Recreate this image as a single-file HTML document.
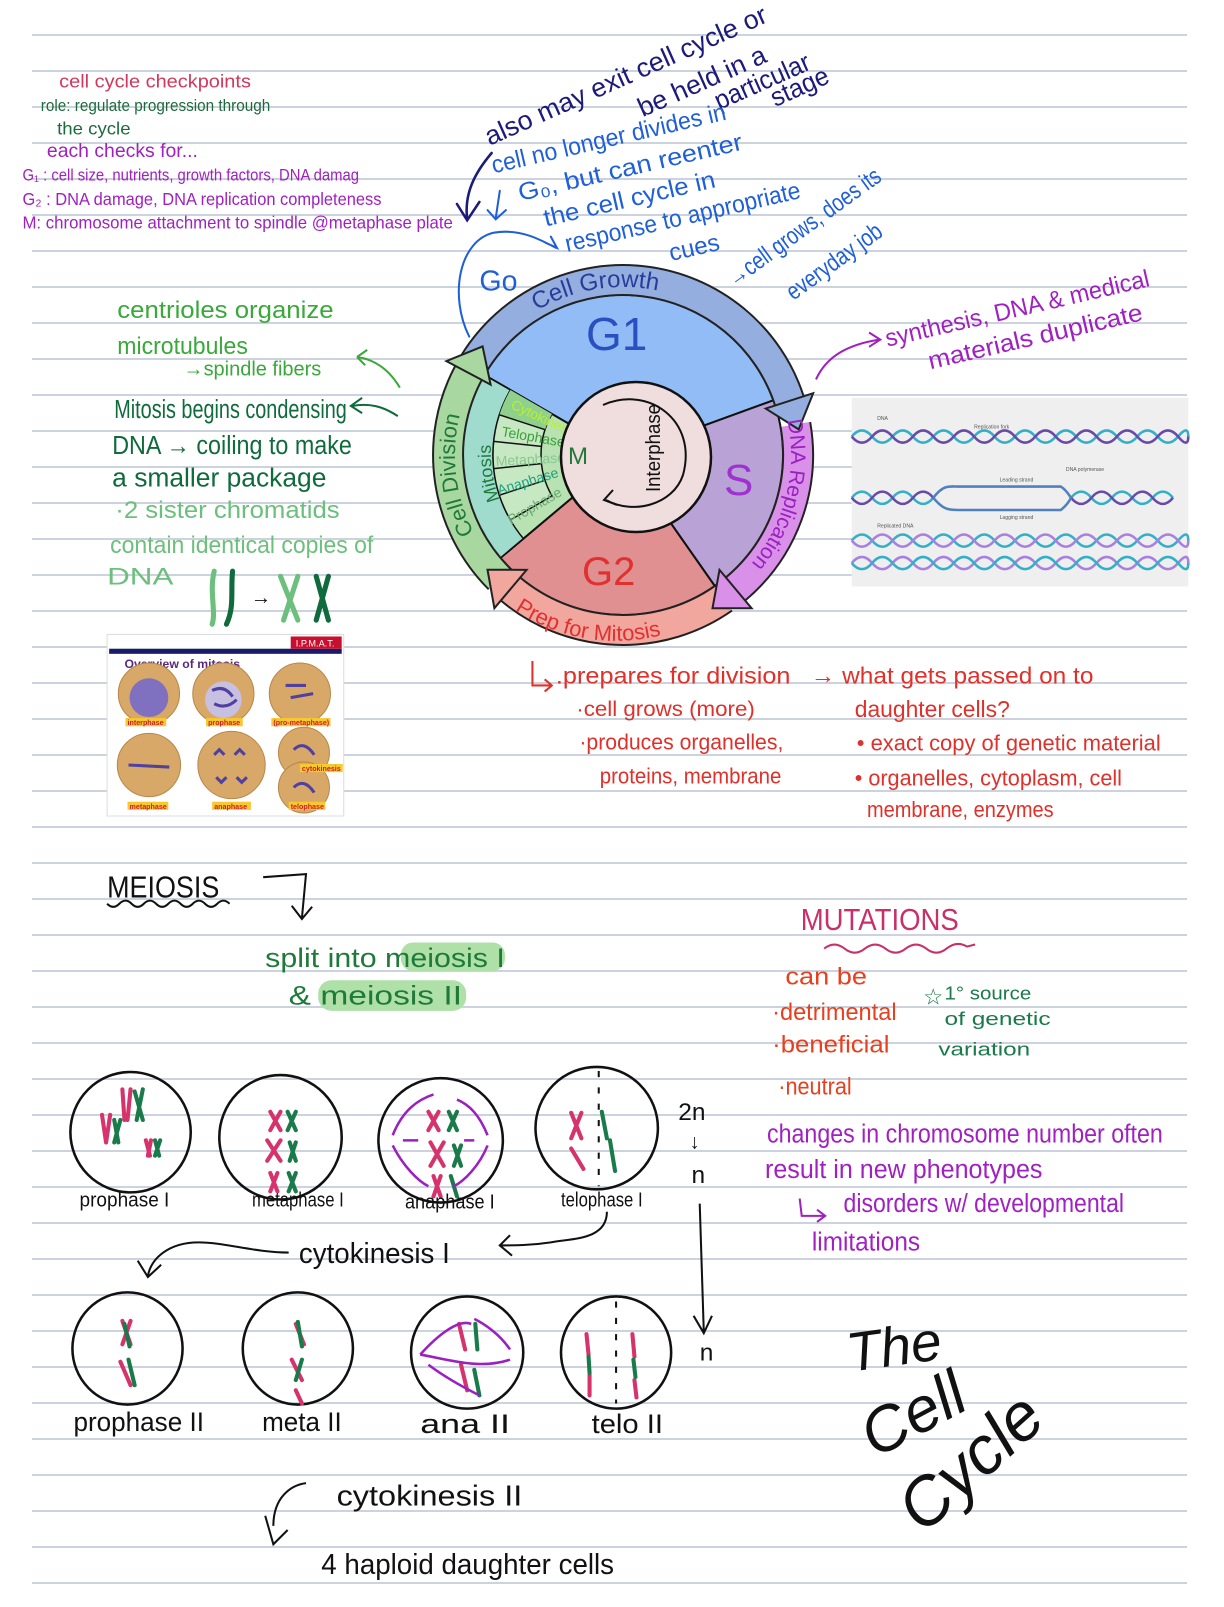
<!DOCTYPE html>
<html><head><meta charset="utf-8"><style>
html,body{margin:0;padding:0;background:#fff}
svg{display:block}
text{font-family:"Liberation Sans Narrow","Liberation Sans",sans-serif}
</style></head><body>
<svg width="1224" height="1607" viewBox="0 0 1224 1607" xmlns="http://www.w3.org/2000/svg">
<defs>
<path id="pGrowth" d="M518.6,317.4 A168 168 0 0 1 711.4,317.4"/>
<path id="pDNA" d="M777.3,411.5 A168 168 0 0 1 693.9,603.3"/>
<path id="pPrep" d="M498,604 A183 183 0 0 0 700,616"/>
<path id="pDiv" d="M469.5,539 A168 168 0 0 1 472.5,366"/>
<path id="pMit" d="M493,503 A130 130 0 0 1 487,420"/>
</defs>
<rect width="1224" height="1607" fill="#fff"/>
<g stroke="#ccd3df" stroke-width="2">
<line x1="32" y1="35" x2="1187" y2="35"/><line x1="32" y1="71" x2="1187" y2="71"/><line x1="32" y1="107" x2="1187" y2="107"/><line x1="32" y1="143" x2="1187" y2="143"/><line x1="32" y1="179" x2="1187" y2="179"/><line x1="32" y1="215" x2="1187" y2="215"/><line x1="32" y1="251" x2="1187" y2="251"/><line x1="32" y1="287" x2="1187" y2="287"/><line x1="32" y1="323" x2="1187" y2="323"/><line x1="32" y1="359" x2="1187" y2="359"/><line x1="32" y1="395" x2="1187" y2="395"/><line x1="32" y1="431" x2="1187" y2="431"/><line x1="32" y1="467" x2="1187" y2="467"/><line x1="32" y1="503" x2="1187" y2="503"/><line x1="32" y1="539" x2="1187" y2="539"/><line x1="32" y1="575" x2="1187" y2="575"/><line x1="32" y1="611" x2="1187" y2="611"/><line x1="32" y1="647" x2="1187" y2="647"/><line x1="32" y1="683" x2="1187" y2="683"/><line x1="32" y1="719" x2="1187" y2="719"/><line x1="32" y1="755" x2="1187" y2="755"/><line x1="32" y1="791" x2="1187" y2="791"/><line x1="32" y1="827" x2="1187" y2="827"/><line x1="32" y1="863" x2="1187" y2="863"/><line x1="32" y1="899" x2="1187" y2="899"/><line x1="32" y1="935" x2="1187" y2="935"/><line x1="32" y1="971" x2="1187" y2="971"/><line x1="32" y1="1007" x2="1187" y2="1007"/><line x1="32" y1="1043" x2="1187" y2="1043"/><line x1="32" y1="1079" x2="1187" y2="1079"/><line x1="32" y1="1115" x2="1187" y2="1115"/><line x1="32" y1="1151" x2="1187" y2="1151"/><line x1="32" y1="1187" x2="1187" y2="1187"/><line x1="32" y1="1223" x2="1187" y2="1223"/><line x1="32" y1="1259" x2="1187" y2="1259"/><line x1="32" y1="1295" x2="1187" y2="1295"/><line x1="32" y1="1331" x2="1187" y2="1331"/><line x1="32" y1="1367" x2="1187" y2="1367"/><line x1="32" y1="1403" x2="1187" y2="1403"/><line x1="32" y1="1439" x2="1187" y2="1439"/><line x1="32" y1="1475" x2="1187" y2="1475"/><line x1="32" y1="1511" x2="1187" y2="1511"/><line x1="32" y1="1547" x2="1187" y2="1547"/><line x1="32" y1="1583" x2="1187" y2="1583"/>
</g>

<!-- cell cycle circle (true coords) -->
<g transform="translate(8,0)">
<path d="M615,455 L476.4,375 A160 160 0 0 1 765.4,400.3 Z" fill="#92bcf5" stroke="#111" stroke-width="2"/>
<path d="M615,455 L765.4,400.3 A160 160 0 0 1 706.8,586 Z" fill="#b9a3d6" stroke="#111" stroke-width="2"/>
<path d="M615,455 L706.8,586 A160 160 0 0 1 492.4,557.9 Z" fill="#e09090" stroke="#111" stroke-width="2"/>
<path d="M615,455 L492.4,557.9 A160 160 0 0 1 476.4,375 Z" fill="#b8e2b2" stroke="#111" stroke-width="2"/>
<path d="M492.4,557.9 A160 160 0 0 1 476.4,375 L502.4,390 A130 130 0 0 0 515.4,538.6 Z" fill="#9fdccd" stroke="#111" stroke-width="1.5"/>
<path d="M502.4,520 A130 130 0 0 1 502.4,390 L544,414 A82 82 0 0 0 544,496 Z" fill="#c6e8c2" stroke="#111" stroke-width="1.5"/>
<path d="M491.4,414.8 A130 130 0 0 1 502.4,390 L544,414 A82 82 0 0 0 537,429.7 Z" fill="#8fd08c"/>
<g stroke="#111" stroke-width="1.5">
<line x1="491.4" y1="495.2" x2="537" y2="480.3"/><line x1="485.7" y1="468.6" x2="533.4" y2="463.6"/><line x1="485.7" y1="441.4" x2="533.4" y2="446.4"/><line x1="491.4" y1="414.8" x2="537" y2="429.7"/>
</g>
<g fill="none" stroke-linecap="butt">
<path d="M502.5,589 A175 175 0 0 0 715.4,598.3" stroke="#222" stroke-width="32"/>
<path d="M502.5,589 A175 175 0 0 0 715.4,598.3" stroke="#f2a79e" stroke-width="28"/>
<path d="M787.4,424.6 A175 175 0 0 1 727.5,589" stroke="#222" stroke-width="32"/>
<path d="M787.4,424.6 A175 175 0 0 1 727.5,589" stroke="#d890e8" stroke-width="28"/>
<path d="M491.3,578.7 A175 175 0 0 1 460.5,372.9" stroke="#222" stroke-width="32"/>
<path d="M491.3,578.7 A175 175 0 0 1 460.5,372.9" stroke="#a8d8a0" stroke-width="28"/>
<path d="M466.6,362.3 A175 175 0 0 1 781.4,400.9" stroke="#222" stroke-width="32"/>
<path d="M466.6,362.3 A175 175 0 0 1 781.4,400.9" stroke="#94aee0" stroke-width="28"/>
</g>
<polygon points="757.7,408.6 805.2,393.2 790.7,429.4" fill="#94aee0" stroke="#222" stroke-width="2"/>
<polygon points="711.5,569.9 743.6,608.2 704.5,608.3" fill="#d890e8" stroke="#222" stroke-width="2"/>
<polygon points="518.6,569.9 486.4,608.2 479.5,569.7" fill="#f2a79e" stroke="#222" stroke-width="2"/>
<polygon points="482.6,384.6 438.4,361.1 474.6,346.4" fill="#a8d8a0" stroke="#222" stroke-width="2"/>
<text font-size="24" fill="#2a3c9a"><textPath href="#pGrowth" startOffset="6%">Cell  Growth</textPath></text>
<text font-size="21" fill="#9a20c0"><textPath href="#pDNA" startOffset="4%">DNA  Replication</textPath></text>
<text font-size="22" fill="#e03030"><textPath href="#pPrep" startOffset="5%">Prep  for  Mitosis</textPath></text>
<text font-size="22" fill="#1f7a3a"><textPath href="#pDiv" startOffset="4%">Cell   Division</textPath></text>
<text font-size="18" fill="#1f7a3a"><textPath href="#pMit" startOffset="4%">Mitosis</textPath></text>
<g font-size="14">
<text transform="translate(502,408) rotate(25)" fill="#b8f030">Cytokinesis</text>
<text transform="translate(493,436) rotate(10)" fill="#3da03a">Telophase</text>
<text transform="translate(488,466) rotate(-3)" fill="#8ac890">Metaphase</text>
<text transform="translate(491,495) rotate(-17)" fill="#1fa080">Anaphase</text>
<text transform="translate(503,525) rotate(-30)" fill="#6aaa70">Prophase</text>
</g>
<circle cx="628" cy="457" r="75" fill="#f0dede" stroke="#111" stroke-width="2.5"/>
<path d="M595,405 C640,385 690,420 675,475 C665,505 625,515 598,500 M605,490 L596,500 L609,505" fill="none" stroke="#111" stroke-width="2"/>
<text transform="translate(652,492) rotate(-90)" font-size="20" fill="#111" textLength="88" lengthAdjust="spacingAndGlyphs">Interphase</text>
<text x="560" y="464" font-size="24" fill="#1f7a3a">M</text>
<text x="578" y="350" font-size="46" fill="#2a4fc0">G1</text>
<text x="716" y="495" font-size="44" fill="#a030d0">S</text>
<text x="574" y="585" font-size="40" fill="#e03030">G2</text>
</g>

<g transform="scale(1.02)">
<!-- top-left checkpoints -->
<text x="58" y="86" fill="#d0385c" font-size="18" textLength="188" lengthAdjust="spacingAndGlyphs">cell cycle   checkpoints</text>
<text x="40" y="109" fill="#1d6b3c" font-size="16" textLength="225" lengthAdjust="spacingAndGlyphs">role: regulate  progression  through</text>
<text x="56" y="132" fill="#1d6b3c" font-size="17" textLength="72" lengthAdjust="spacingAndGlyphs">the cycle</text>
<text x="46" y="154" fill="#a020c0" font-size="19" textLength="148" lengthAdjust="spacingAndGlyphs">each checks for...</text>
<text x="22" y="177" fill="#a020c0" font-size="16" textLength="330" lengthAdjust="spacingAndGlyphs">G₁ : cell size, nutrients, growth factors, DNA damag</text>
<text x="22" y="201" fill="#a020c0" font-size="17" textLength="352" lengthAdjust="spacingAndGlyphs">G₂ : DNA damage, DNA replication completeness</text>
<text x="22" y="224" fill="#a020c0" font-size="17" textLength="422" lengthAdjust="spacingAndGlyphs">M: chromosome attachment to spindle @metaphase plate</text>

<!-- blue notes top -->
<g fill="#1c1a7a" font-size="26">
<text transform="translate(480,143) rotate(-24)" textLength="300" lengthAdjust="spacingAndGlyphs">also may  exit cell cycle or</text>
<text transform="translate(630,115) rotate(-24)" textLength="135" lengthAdjust="spacingAndGlyphs">be held in a</text>
<text transform="translate(705,108) rotate(-24)" textLength="100" lengthAdjust="spacingAndGlyphs">particular</text>
<text transform="translate(760,105) rotate(-24)" textLength="60" lengthAdjust="spacingAndGlyphs">stage</text>
</g>
<g fill="#1f5fd8" font-size="24">
<text transform="translate(484,170) rotate(-13)" textLength="235" lengthAdjust="spacingAndGlyphs">cell no longer divides in</text>
<text transform="translate(510,197) rotate(-13)" textLength="225" lengthAdjust="spacingAndGlyphs">G₀, but can reenter</text>
<text transform="translate(535,222) rotate(-13)" textLength="172" lengthAdjust="spacingAndGlyphs">the cell cycle in</text>
<text transform="translate(556,247) rotate(-13)" textLength="236" lengthAdjust="spacingAndGlyphs">response to appropriate</text>
<text transform="translate(658,256) rotate(-13)" textLength="50" lengthAdjust="spacingAndGlyphs">cues</text>
<text transform="translate(720,282) rotate(-36)" textLength="180" lengthAdjust="spacingAndGlyphs">→cell grows, does its</text>
<text transform="translate(778,295) rotate(-36)" textLength="110" lengthAdjust="spacingAndGlyphs">everyday job</text>
<text x="470" y="285" font-size="28">Go</text>
</g>
<g fill="none" stroke-linecap="round">
<path d="M482,150 C465,170 455,190 458,215" stroke="#1c1a7a" stroke-width="2.5"/>
<path d="M448,200 L458,216 L470,198" stroke="#1c1a7a" stroke-width="2.5"/>
<path d="M490,187 L486,214 M478,206 L486,215 L496,206" stroke="#1f5fd8" stroke-width="2"/>
<path d="M460,330 C440,290 450,235 485,228 C510,224 530,235 545,243 M535,238 L546,243 L540,232" stroke="#1f5fd8" stroke-width="2"/>
</g>

<!-- purple synthesis -->
<path d="M800,372 C810,350 830,338 862,333 M852,326 L863,333 L852,340" fill="none" stroke="#a020c0" stroke-width="2"/>
<text transform="translate(870,340) rotate(-13)" font-size="24" fill="#a020c0" textLength="265" lengthAdjust="spacingAndGlyphs">synthesis, DNA &amp; medical</text>
<text transform="translate(912,362) rotate(-13)" font-size="24" fill="#a020c0" textLength="215" lengthAdjust="spacingAndGlyphs">materials  duplicate</text>

<!-- DNA replication image -->
<rect x="835" y="390" width="330" height="185" fill="#efefef"/>
<g fill="none" stroke-width="2.5">
<path d="M835,428 q10,-12 20,0 t20,0 t20,0 t20,0 t20,0 t20,0 t20,0 t20,0 t20,0 t20,0 t20,0 t20,0 t20,0 t20,0 t20,0 t20,0 t10,0" stroke="#33b0c8"/>
<path d="M835,428 q10,12 20,0 t20,0 t20,0 t20,0 t20,0 t20,0 t20,0 t20,0 t20,0 t20,0 t20,0 t20,0 t20,0 t20,0 t20,0 t20,0 t10,0" stroke="#6a4aa8"/>
<path d="M835,488 q10,-12 20,0 t20,0 t20,0 t20,0 M1050,488 q10,-12 20,0 t20,0 t20,0 t20,0 t20,0" stroke="#33b0c8"/>
<path d="M835,488 q10,12 20,0 t20,0 t20,0 t20,0 M1050,488 q10,12 20,0 t20,0 t20,0 t20,0 t20,0" stroke="#6a4aa8"/>
<path d="M915,488 C925,475 930,477 940,477 L1040,477 C1045,480 1048,485 1050,488 M915,488 C925,500 930,500 940,500 L1040,500 C1045,496 1048,492 1050,488" stroke="#5080c0"/>
<path d="M835,530 q10,-12 20,0 t20,0 t20,0 t20,0 t20,0 t20,0 t20,0 t20,0 t20,0 t20,0 t20,0 t20,0 t20,0 t20,0 t20,0 t20,0 t10,0" stroke="#33b0c8"/>
<path d="M835,530 q10,12 20,0 t20,0 t20,0 t20,0 t20,0 t20,0 t20,0 t20,0 t20,0 t20,0 t20,0 t20,0 t20,0 t20,0 t20,0 t20,0 t10,0" stroke="#a880e0"/>
<path d="M835,552 q10,-12 20,0 t20,0 t20,0 t20,0 t20,0 t20,0 t20,0 t20,0 t20,0 t20,0 t20,0 t20,0 t20,0 t20,0 t20,0 t20,0 t10,0" stroke="#a880e0"/>
<path d="M835,552 q10,12 20,0 t20,0 t20,0 t20,0 t20,0 t20,0 t20,0 t20,0 t20,0 t20,0 t20,0 t20,0 t20,0 t20,0 t20,0 t20,0 t10,0" stroke="#33b0c8"/>
</g>
<g font-size="5" fill="#555"><text x="860" y="412">DNA</text><text x="955" y="420">Replication fork</text><text x="980" y="472">Leading strand</text><text x="1045" y="462">DNA polymerase</text><text x="980" y="509">Lagging strand</text><text x="860" y="517">Replicated DNA</text></g>

<!-- green left notes -->
<g fill="#3aa83a" font-size="24">
<text x="115" y="312" textLength="212" lengthAdjust="spacingAndGlyphs">centrioles  organize</text>
<text x="115" y="347" textLength="128" lengthAdjust="spacingAndGlyphs">microtubules</text>
<text x="180" y="368" font-size="20" textLength="135" lengthAdjust="spacingAndGlyphs">→spindle fibers</text>
</g>
<path d="M392,380 C380,360 365,352 350,350 M350,350 L360,343 M350,350 L358,358" fill="none" stroke="#3aa83a" stroke-width="2"/>
<g fill="#0f6b3c" font-size="25">
<text x="112" y="410" textLength="228" lengthAdjust="spacingAndGlyphs">Mitosis begins condensing</text>
<text x="110" y="445" textLength="235" lengthAdjust="spacingAndGlyphs">DNA → coiling to make</text>
<text x="110" y="477" textLength="210" lengthAdjust="spacingAndGlyphs">a smaller package</text>
</g>
<path d="M390,408 C375,398 362,395 345,398 M355,390 L344,398 L355,405" fill="none" stroke="#0f6b3c" stroke-width="2"/>
<g fill="#6cbf7c" font-size="24">
<text x="113" y="508" textLength="220" lengthAdjust="spacingAndGlyphs">·2 sister chromatids</text>
<text x="108" y="542" textLength="258" lengthAdjust="spacingAndGlyphs">contain identical copies of</text>
<text x="105" y="573" textLength="65" lengthAdjust="spacingAndGlyphs">DNA</text>
</g>
<g fill="none" stroke-width="5" stroke-linecap="round">
<path d="M210,560 C205,580 212,600 208,612" stroke="#6cbf7c"/><path d="M228,560 C226,580 230,595 222,612" stroke="#0f6b3c"/>
<path d="M275,565 L292,608 M292,565 L278,608" stroke="#6cbf7c"/><path d="M310,565 L322,608 M322,565 L310,608" stroke="#0f6b3c"/>
</g>
<text x="246" y="592" font-size="20" fill="#111">→</text>

<!-- mitosis overview image -->
<rect x="105" y="622" width="232" height="178" fill="#fff" stroke="#ddd"/>
<rect x="107" y="636" width="228" height="5" fill="#1a1a6a"/>
<rect x="285" y="624" width="50" height="12" fill="#c8102e"/>
<text x="290" y="634" font-size="9" fill="#fff" font-family="Liberation Serif">I.P.M.A.T.</text>
<text x="122" y="655" font-size="12" font-weight="bold" fill="#5a2a7a">Overview of mitosis</text>
<g fill="#d8a868" stroke="#b88848">
<circle cx="146" cy="680" r="30"/><circle cx="219" cy="680" r="30"/><circle cx="294" cy="680" r="30"/>
<circle cx="146" cy="750" r="31"/><circle cx="227" cy="750" r="33"/><circle cx="298" cy="738" r="25"/><circle cx="298" cy="772" r="25"/>
</g>
<circle cx="146" cy="684" r="19" fill="#8070c0"/>
<circle cx="219" cy="686" r="18" fill="#c8c0e0"/>
<g stroke="#5040a0" stroke-width="3" fill="none"><path d="M208,677 q12,-6 20,6 M210,690 q12,6 22,-4 M280,672 l20,0 M285,684 l22,-4 M126,750 l40,2 M210,740 l5,-5 l5,5 M230,740 l5,-5 l5,5 M212,762 l5,5 l5,-5 M232,762 l5,5 l5,-5 M288,735 q10,-10 20,5 M288,772 q10,-10 20,5"/></g>
<g font-size="7" font-weight="bold"><rect x="123" y="704" width="40" height="8" fill="#f8c830"/><text x="125" y="711" fill="#d02020">interphase</text>
<rect x="202" y="704" width="36" height="8" fill="#f8c830"/><text x="204" y="711" fill="#d02020">prophase</text>
<rect x="266" y="704" width="58" height="8" fill="#f8c830"/><text x="268" y="711" fill="#d02020">(pro-metaphase)</text>
<rect x="125" y="786" width="40" height="8" fill="#f8c830"/><text x="127" y="793" fill="#d02020">metaphase</text>
<rect x="208" y="786" width="38" height="8" fill="#f8c830"/><text x="210" y="793" fill="#d02020">anaphase</text>
<rect x="294" y="749" width="42" height="8" fill="#f8c830"/><text x="296" y="756" fill="#d02020">cytokinesis</text>
<rect x="283" y="786" width="36" height="8" fill="#f8c830"/><text x="285" y="793" fill="#d02020">telophase</text></g>

<!-- red notes under circle -->
<g fill="#e0302a" font-size="23">
<path d="M522,648 L522,672 L540,672 M534,666 L541,672 L534,678" fill="none" stroke="#e0302a" stroke-width="2"/>
<text x="545" y="670" textLength="230" lengthAdjust="spacingAndGlyphs">.prepares for division</text>
<text x="795" y="670" textLength="277" lengthAdjust="spacingAndGlyphs">→ what gets  passed on to</text>
<text x="565" y="702" font-size="21" textLength="175" lengthAdjust="spacingAndGlyphs">·cell grows (more)</text>
<text x="838" y="703" textLength="152" lengthAdjust="spacingAndGlyphs">daughter cells?</text>
<text x="568" y="735" font-size="22" textLength="200" lengthAdjust="spacingAndGlyphs">·produces organelles,</text>
<text x="840" y="736" font-size="22" textLength="298" lengthAdjust="spacingAndGlyphs">• exact copy of genetic material</text>
<text x="588" y="768" font-size="22" textLength="178" lengthAdjust="spacingAndGlyphs">proteins, membrane</text>
<text x="838" y="770" font-size="22" textLength="262" lengthAdjust="spacingAndGlyphs">• organelles, cytoplasm, cell</text>
<text x="850" y="801" font-size="22" textLength="183" lengthAdjust="spacingAndGlyphs">membrane, enzymes</text>
</g>

<!-- MEIOSIS -->
<text x="105" y="880" font-size="30" fill="#111" textLength="110" lengthAdjust="spacingAndGlyphs">MEIOSIS</text>
<path d="M105,886 q6,6 12,0 t12,0 t12,0 t12,0 t12,0 t12,0 t12,0 t12,0 t12,0 t12,0" fill="none" stroke="#111" stroke-width="2"/>
<path d="M258,860 L300,857 L296,900 M286,888 L296,901 L306,889" fill="none" stroke="#111" stroke-width="2"/>
<rect x="393" y="924" width="102" height="28" rx="12" fill="#aee0a8"/>
<rect x="312" y="961" width="145" height="30" rx="13" fill="#aee0a8"/>
<text x="260" y="948" font-size="26" fill="#1f7a3a" textLength="235" lengthAdjust="spacingAndGlyphs">split into  meiosis I</text>
<text x="283" y="985" font-size="26" fill="#1f7a3a" textLength="170" lengthAdjust="spacingAndGlyphs">&amp;  meiosis II</text>

<g transform="translate(0,8)">
<!-- meiosis circles -->
<g fill="none" stroke="#111" stroke-width="2.5">
<ellipse cx="128" cy="1102" rx="59" ry="59"/><ellipse cx="275" cy="1107" rx="60" ry="61"/><ellipse cx="432" cy="1110" rx="61" ry="61"/><ellipse cx="585" cy="1098" rx="60" ry="60"/>
<ellipse cx="125" cy="1314" rx="54" ry="55"/><ellipse cx="292" cy="1314" rx="54" ry="55"/><ellipse cx="458" cy="1318" rx="55" ry="55"/><ellipse cx="604" cy="1318" rx="54" ry="55"/>
</g>
<g fill="none" stroke-width="4" stroke-linecap="round">
<g stroke="#d6336c"><path d="M120,1060 L122,1090 M128,1060 L125,1090 M100,1085 L104,1112 M108,1085 L104,1112 M143,1110 L147,1125 M148,1110 L145,1125 M265,1082 L275,1100 M275,1082 L265,1100 M262,1110 L275,1130 M275,1110 L262,1130 M265,1142 L272,1160 M272,1142 L265,1160 M420,1082 L430,1100 M430,1082 L420,1100 M422,1112 L435,1135 M435,1112 L422,1135 M425,1145 L432,1165 M432,1145 L425,1165 M560,1083 L570,1108 M570,1083 L560,1108 M560,1118 L572,1138 M120,1287 L128,1310 M128,1287 L120,1310 M118,1327 L128,1350 M290,1290 L298,1310 M286,1325 L296,1345 M290,1355 L296,1368 M450,1290 L456,1315 M452,1330 L458,1355 M575,1300 L577,1320 M620,1300 L622,1322 M578,1340 L578,1360 M622,1345 L624,1362"/></g>
<g stroke="#1a7a4a"><path d="M140,1060 L134,1090 M132,1062 L140,1090 M112,1090 L116,1112 M118,1090 L112,1112 M152,1110 L156,1125 M157,1110 L152,1125 M282,1082 L290,1100 M290,1082 L282,1100 M284,1112 L290,1130 M290,1112 L284,1130 M283,1142 L290,1160 M290,1142 L283,1160 M440,1082 L448,1100 M448,1082 L440,1100 M445,1115 L452,1135 M452,1115 L445,1135 M442,1145 L448,1165 M590,1082 L595,1108 M598,1110 L603,1140 M122,1290 L127,1312 M126,1325 L132,1350 M292,1288 L296,1312 M296,1325 L290,1345 M466,1290 L468,1315 M465,1335 L470,1360 M577,1322 L578,1338 M621,1325 L623,1342"/></g>
</g>
<g fill="none" stroke="#9a20c0" stroke-width="2.5">
<path d="M385,1105 C395,1080 410,1070 425,1065 M478,1105 C470,1085 460,1075 448,1070 M385,1115 C395,1135 410,1150 420,1155 M478,1115 C470,1135 455,1150 445,1155 M395,1110 L410,1110 M455,1110 L465,1110"/>
<path d="M412,1320 C430,1300 450,1285 462,1290 M412,1320 C440,1325 470,1335 500,1325 M420,1330 C440,1345 460,1355 470,1360 M500,1315 C490,1300 475,1290 465,1285"/>
</g>
<g stroke="#111" stroke-width="2" stroke-dasharray="6,10"><line x1="587" y1="1042" x2="587" y2="1155"/><line x1="604" y1="1268" x2="604" y2="1368"/></g>
<g font-size="20" fill="#111">
<text x="78" y="1175" textLength="88" lengthAdjust="spacingAndGlyphs">prophase I</text>
<text x="247" y="1175" textLength="90" lengthAdjust="spacingAndGlyphs">metaphase I</text>
<text x="397" y="1177" textLength="88" lengthAdjust="spacingAndGlyphs">anaphase I</text>
<text x="550" y="1175" textLength="80" lengthAdjust="spacingAndGlyphs">telophase I</text>
<text x="665" y="1090" font-size="24">2n</text><text x="676" y="1118">↓</text><text x="678" y="1152" font-size="24">n</text>
<text x="686" y="1326" font-size="24">n</text>
<text x="293" y="1230" font-size="28" textLength="148" lengthAdjust="spacingAndGlyphs">cytokinesis I</text>
<text x="72" y="1395" font-size="26" textLength="128" lengthAdjust="spacingAndGlyphs">prophase II</text>
<text x="257" y="1395" font-size="26" textLength="78" lengthAdjust="spacingAndGlyphs">meta II</text>
<text x="412" y="1397" font-size="26" textLength="88" lengthAdjust="spacingAndGlyphs">ana II</text>
<text x="580" y="1397" font-size="26" textLength="70" lengthAdjust="spacingAndGlyphs">telo II</text>
<text x="330" y="1468" font-size="28" textLength="182" lengthAdjust="spacingAndGlyphs">cytokinesis II</text>
<text x="315" y="1535" font-size="28" textLength="287" lengthAdjust="spacingAndGlyphs">4  haploid  daughter cells</text>
</g>
<g fill="none" stroke="#111" stroke-width="2">
<path d="M283,1220 C250,1220 220,1210 195,1210 C165,1210 148,1226 145,1243 M135,1228 L145,1244 L158,1232"/>
<path d="M595,1180 C595,1208 560,1206 540,1210 C520,1213 505,1213 490,1213 M500,1203 L490,1213 L502,1223"/>
<path d="M686,1172 L690,1298 M680,1282 L690,1299 L698,1282"/>
<path d="M300,1446 C285,1448 268,1460 268,1488 M260,1478 L268,1506 L282,1492"/>
</g>
</g>

<!-- MUTATIONS -->
<text x="785" y="912" font-size="30" fill="#c8306a" textLength="155" lengthAdjust="spacingAndGlyphs">MUTATIONS</text>
<path d="M808,930 q10,-8 20,0 t20,0 t20,0 t20,0 t20,0 t20,0 t20,-2 l8,-2" fill="none" stroke="#c8306a" stroke-width="2"/>
<g fill="#e8401e" font-size="24">
<text x="770" y="965" textLength="80" lengthAdjust="spacingAndGlyphs">can  be</text>
<text x="757" y="1000" textLength="122" lengthAdjust="spacingAndGlyphs">·detrimental</text>
<text x="757" y="1032" textLength="115" lengthAdjust="spacingAndGlyphs">·beneficial</text>
<text x="763" y="1073" textLength="72" lengthAdjust="spacingAndGlyphs">·neutral</text>
</g>
<g fill="#1a7a4a" font-size="18">
<text x="905" y="985" font-size="22">☆</text>
<text x="926" y="980" textLength="85" lengthAdjust="spacingAndGlyphs">1° source</text>
<text x="926" y="1005" textLength="104" lengthAdjust="spacingAndGlyphs">of  genetic</text>
<text x="920" y="1035" textLength="90" lengthAdjust="spacingAndGlyphs">variation</text>
</g>
<g fill="#a020c0" font-size="25">
<text x="752" y="1120" textLength="388" lengthAdjust="spacingAndGlyphs">changes in chromosome  number  often</text>
<text x="750" y="1155" textLength="272" lengthAdjust="spacingAndGlyphs">result   in new  phenotypes</text>
<text x="827" y="1188" textLength="275" lengthAdjust="spacingAndGlyphs">disorders  w/ developmental</text>
<text x="796" y="1226" textLength="106" lengthAdjust="spacingAndGlyphs">limitations</text>
</g>
<path d="M784,1175 L786,1192 L808,1192 M801,1186 L809,1192 L801,1198" fill="none" stroke="#a020c0" stroke-width="2"/>

<!-- The Cell Cycle -->
<g fill="#111" font-family="Liberation Serif,serif" font-style="italic">
<text transform="translate(833,1345) rotate(-8)" font-size="54">The</text>
<text transform="translate(858,1430) rotate(-28)" font-size="62">Cell</text>
<text transform="translate(905,1505) rotate(-42)" font-size="66">Cycle</text>
</g>
</g>
</svg>
</body></html>
